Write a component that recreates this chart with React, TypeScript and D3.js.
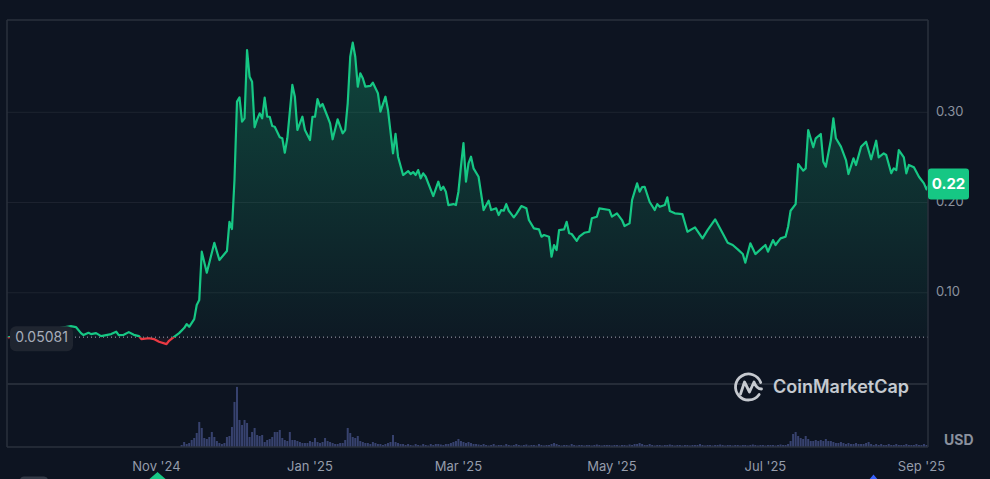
import React, { useEffect } from "react";
import * as d3 from "d3";

const W = 990;
const H = 479;

const priceDates = [
  "2024-09-03","2024-09-28","2024-09-30","2024-10-02","2024-10-03","2024-10-05","2024-10-06","2024-10-08","2024-10-10","2024-10-12",
  "2024-10-14","2024-10-16","2024-10-17","2024-10-19","2024-10-21","2024-10-23","2024-10-25","2024-10-26","2024-10-29","2024-10-31",
  "2024-11-02","2024-11-05","2024-11-06","2024-11-08","2024-11-10","2024-11-12","2024-11-13","2024-11-14","2024-11-16","2024-11-17",
  "2024-11-18","2024-11-19","2024-11-21","2024-11-24","2024-11-26","2024-11-29","2024-11-30","2024-12-01","2024-12-02","2024-12-03",
  "2024-12-04","2024-12-05","2024-12-06","2024-12-07","2024-12-08","2024-12-09","2024-12-10","2024-12-11","2024-12-12","2024-12-13",
  "2024-12-14","2024-12-15","2024-12-16","2024-12-17","2024-12-18","2024-12-20","2024-12-21","2024-12-22","2024-12-23","2024-12-25",
  "2024-12-26","2024-12-27","2024-12-29","2024-12-30","2025-01-01","2025-01-02","2025-01-03","2025-01-04","2025-01-05","2025-01-06",
  "2025-01-08","2025-01-09","2025-01-10","2025-01-12","2025-01-14","2025-01-15","2025-01-16","2025-01-17","2025-01-18","2025-01-19",
  "2025-01-20","2025-01-21","2025-01-22","2025-01-23","2025-01-25","2025-01-26","2025-01-28","2025-01-29","2025-01-31","2025-02-01",
  "2025-02-03","2025-02-04","2025-02-05","2025-02-07","2025-02-09","2025-02-10","2025-02-11","2025-02-12","2025-02-13","2025-02-14",
  "2025-02-15","2025-02-16","2025-02-19","2025-02-21","2025-02-22","2025-02-23","2025-02-24","2025-02-25","2025-02-27","2025-02-28",
  "2025-03-01","2025-03-02","2025-03-03","2025-03-04","2025-03-05","2025-03-06","2025-03-07","2025-03-09","2025-03-11","2025-03-13",
  "2025-03-14","2025-03-16","2025-03-17","2025-03-18","2025-03-19","2025-03-20","2025-03-21","2025-03-23","2025-03-24","2025-03-26",
  "2025-03-28","2025-03-29","2025-03-31","2025-04-02","2025-04-03","2025-04-04","2025-04-06","2025-04-07","2025-04-08","2025-04-09",
  "2025-04-10","2025-04-12","2025-04-13","2025-04-14","2025-04-15","2025-04-17","2025-04-18","2025-04-20","2025-04-22","2025-04-23",
  "2025-04-25","2025-04-26","2025-04-30","2025-05-01","2025-05-03","2025-05-05","2025-05-06","2025-05-08","2025-05-09","2025-05-11",
  "2025-05-12","2025-05-13","2025-05-14","2025-05-16","2025-05-18","2025-05-19","2025-05-20","2025-05-22","2025-05-23","2025-05-24",
  "2025-05-26","2025-05-29","2025-05-31","2025-06-03","2025-06-06","2025-06-08","2025-06-11","2025-06-14","2025-06-16","2025-06-18",
  "2025-06-20","2025-06-22","2025-06-23","2025-06-25","2025-06-27","2025-07-01","2025-07-02","2025-07-04","2025-07-05","2025-07-07",
  "2025-07-09","2025-07-10","2025-07-11","2025-07-13","2025-07-14","2025-07-16","2025-07-17","2025-07-18","2025-07-20","2025-07-21",
  "2025-07-23","2025-07-24","2025-07-25","2025-07-27","2025-07-28","2025-07-29","2025-07-31","2025-08-02","2025-08-03","2025-08-05",
  "2025-08-06","2025-08-08","2025-08-10","2025-08-12","2025-08-14","2025-08-15","2025-08-17","2025-08-18","2025-08-20","2025-08-21",
  "2025-08-22","2025-08-23","2025-08-25","2025-08-26","2025-08-27","2025-08-29","2025-08-31","2025-09-02","2025-09-03","2025-09-04",
];

const priceValues = [
  0.0505,0.0631,0.0620,0.0553,0.0531,0.0557,0.0542,0.0553,0.0520,0.0531,
  0.0542,0.0568,0.0531,0.0534,0.0564,0.0534,0.0520,0.0487,0.0498,0.0487,
  0.0457,0.0431,0.0468,0.0512,0.0553,0.0609,0.0653,0.0623,0.0708,0.0864,
  0.0919,0.1455,0.1222,0.1554,0.1363,0.1462,0.1787,0.1706,0.2250,0.3118,
  0.3166,0.2896,0.2933,0.3690,0.3395,0.3339,0.2834,0.2922,0.2989,0.2933,
  0.3162,0.2951,0.2951,0.2848,0.2840,0.2723,0.2712,0.2552,0.2712,0.3303,
  0.3173,0.2804,0.2951,0.2804,0.2693,0.2951,0.2951,0.3147,0.3062,0.3092,
  0.2951,0.2878,0.2701,0.2922,0.2767,0.2804,0.3100,0.3616,0.3772,0.3616,
  0.3284,0.3432,0.3377,0.3284,0.3292,0.3328,0.3211,0.3007,0.3173,0.3026,
  0.2546,0.2760,0.2508,0.2305,0.2349,0.2316,0.2338,0.2305,0.2360,0.2268,
  0.2324,0.2286,0.2072,0.2231,0.2139,0.2175,0.2120,0.1972,0.1983,0.1972,
  0.2120,0.2400,0.2658,0.2231,0.2435,0.2508,0.2379,0.2286,0.1917,0.2020,
  0.1917,0.1936,0.1861,0.1917,0.1909,0.1983,0.1909,0.1836,0.1872,0.1961,
  0.1936,0.1806,0.1714,0.1703,0.1621,0.1640,0.1621,0.1399,0.1529,0.1473,
  0.1695,0.1703,0.1787,0.1659,0.1651,0.1576,0.1621,0.1665,0.1676,0.1825,
  0.1843,0.1936,0.1917,0.1843,0.1880,0.1806,0.1740,0.1769,0.2028,0.2213,
  0.2120,0.2172,0.2175,0.2006,0.1917,0.1983,0.1953,0.1972,0.2058,0.1906,
  0.1880,0.1872,0.1676,0.1725,0.1603,0.1695,0.1814,0.1659,0.1554,0.1529,
  0.1481,0.1429,0.1333,0.1548,0.1429,0.1529,0.1455,0.1584,0.1529,0.1603,
  0.1621,0.1732,0.1909,0.1983,0.2427,0.2353,0.2379,0.2804,0.2612,0.2712,
  0.2760,0.2452,0.2397,0.2693,0.2933,0.2712,0.2619,0.2471,0.2316,0.2490,
  0.2416,0.2619,0.2674,0.2479,0.2685,0.2501,0.2545,0.2527,0.2324,0.2379,
  0.2360,0.2582,0.2501,0.2324,0.2416,0.2390,0.2286,0.2213,0.2146,0.2200,
];

const baselinePrice = 0.05081;
const baselineLabel = "0.05081";
const lastPriceLabel = "0.22";
const priceTicks = [0.1, 0.2, 0.3];
const priceTickLabels = ["0.10", "0.20", "0.30"];
const timeTicks = ["2024-11-01", "2025-01-01", "2025-03-01", "2025-05-01", "2025-07-01", "2025-09-01"];
const timeTickLabels = ["Nov '24", "Jan '25", "Mar '25", "May '25", "Jul '25", "Sep '25"];
const currencyLabel = "USD";
const brandLabel = "CoinMarketCap";

// daily volume (relative units), starting 2024-11-11
const volumeStart = "2024-11-11";
const volumeValues = [
  2,5,3,4,7,9,14,25,19,9,
  8,10,15,10,6,4,3,4,10,11,
  20,45,60,27,22,27,24,10,15,19,
  12,11,12,5,7,8,10,15,15,17,
  9,7,6,15,7,7,6,5,4,4,
  4,6,5,9,5,4,5,9,6,5,
  4,3,3,4,4,7,19,14,10,9,
  11,6,5,4,4,3,5,4,3,3,
  2,3,4,5,12,5,4,3,3,2,
  3,2,1.5,3,2,1.5,3,2,1.5,3,
  2,3,3,2.5,2,3,3,4,5,6,
  8,6,5,4,5,4,3,3,2.5,2,
  3,2,1.5,2,3,1.5,2,2,1.5,3,
  2,1.5,2,3,2,1.5,2,2.5,1.5,2,
  2,1.5,3,2,1.5,2,2,3,4,3,
  2,1.5,2,2,1.5,3,2,1.5,2,2,
  1.5,2,2,1.5,2,2.5,2,1.5,2,2,
  2,1.5,2,2,1.5,2,2,1.5,2.5,2,
  3,3,4,3,2,2,3,2,1.5,2,
  2,1.5,2,2,2.5,2,1.5,2,2,1.5,
  2,2,1.5,2,2,2,3,2,1.5,2,
  2,1.5,2,2,2.5,2,1.5,2,2,1.5,
  2,2,1.5,2,2,1.5,2,2.5,2,1.5,
  2,2,1.5,2,2,2,1.5,2,2.5,2,
  2,3,6,13,15,11,9,8,11,8,
  6,6,7,6,7,6,8,6,6,5,
  4,4,5,4,3,4,3,3,4,3,
  3,3,4,5,3,2,3,2,3,2,
  2,3,2,2,3,2,2,2,3,2,
  2,2,3,2,2,3,2,
];

const BG = "#0d1421";
const GREEN = "#16c784";
const RED = "#ea3943";
const FONT = "Inter, 'Noto Sans', sans-serif";

const parse = d3.utcParse("%Y-%m-%d");

export default function App() {
  useEffect(() => {
    document.body.style.margin = "0";
    document.body.style.background = BG;
  }, []);

  const left = 7;
  const right = 928;
  const top = 20;
  const priceBottom = 383;
  const volBottom = 447;

  const data = priceDates.map((d, i) => ({ date: parse(d) as Date, v: priceValues[i] }));
  const x = d3.scaleUtc().domain([parse("2024-09-03") as Date, parse("2025-09-04") as Date]).range([8, 929]);
  const y = d3.scaleLinear().domain([0, 0.4023]).range([priceBottom, top]);
  const baseY = y(baselinePrice);

  const vStart = parse(volumeStart) as Date;
  const vols = volumeValues.map((v, i) => ({ date: d3.utcDay.offset(vStart, i), v }));
  const vy = d3.scaleLinear().domain([0, (d3.max(volumeValues) as number) * 1.065]).range([volBottom, priceBottom]);

  const line = d3.line<{ date: Date; v: number }>().x((d) => x(d.date)).y((d) => y(d.v));
  const area = d3
    .area<{ date: Date; v: number }>()
    .x((d) => x(d.date))
    .y0(baseY)
    .y1((d) => y(d.v));

  const lastY = y(priceValues[priceValues.length - 1]);

  // logo geometry
  const lcx = 748.5;
  const lcy = 387;
  const lr = 13;
  const a0 = (35 * Math.PI) / 180;
  const a1 = (-20 * Math.PI) / 180;
  const arcPath = `M ${lcx + lr * Math.cos(a0)} ${lcy + lr * Math.sin(a0)} A ${lr} ${lr} 0 1 1 ${lcx + lr * Math.cos(a1)} ${lcy + lr * Math.sin(a1)}`;

  return (
    <svg width={W} height={H} style={{ position: "absolute", left: 0, top: 0, display: "block" }} fontFamily={FONT}>
      <defs>
        <linearGradient id="gUp" gradientUnits="userSpaceOnUse" x1="0" y1={top} x2="0" y2={baseY}>
          <stop offset="0" stopColor={GREEN} stopOpacity={0.3} />
          <stop offset="1" stopColor={GREEN} stopOpacity={0.03} />
        </linearGradient>
        <linearGradient id="gDown" gradientUnits="userSpaceOnUse" x1="0" y1={baseY} x2="0" y2={priceBottom}>
          <stop offset="0" stopColor={RED} stopOpacity={0.05} />
          <stop offset="1" stopColor={RED} stopOpacity={0.3} />
        </linearGradient>
        <clipPath id="cUp">
          <rect x={left} y={top} width={right - left} height={baseY - top} />
        </clipPath>
        <clipPath id="cDown">
          <rect x={left} y={baseY} width={right - left} height={priceBottom - baseY} />
        </clipPath>
      </defs>
      <rect width={W} height={H} fill={BG} />

      {/* grid */}
      {priceTicks.map((t) => (
        <line key={t} x1={left} x2={right} y1={y(t)} y2={y(t)} stroke="#1d2430" strokeWidth={1} />
      ))}

      {/* volume */}
      {vols.map((d, i) => (
        <rect
          key={i}
          x={x(d.date) - 1}
          y={vy(d.v)}
          width={2}
          height={volBottom - vy(d.v)}
          fill="#3c4777"
          opacity={0.9}
        />
      ))}

      {/* fills */}
      <path d={area(data) || ""} fill="url(#gUp)" clipPath="url(#cUp)" />
      <path d={area(data) || ""} fill="url(#gDown)" clipPath="url(#cDown)" />

      {/* baseline */}
      <line x1={left} x2={right} y1={baseY} y2={baseY} stroke="#a3a9b6" strokeWidth={1} strokeDasharray="1 3" />

      {/* line */}
      <path d={line(data) || ""} fill="none" stroke={GREEN} strokeWidth={2.2} strokeLinejoin="round" clipPath="url(#cUp)" />
      <path d={line(data) || ""} fill="none" stroke={RED} strokeWidth={2.2} strokeLinejoin="round" clipPath="url(#cDown)" />

      {/* frame */}
      <line x1={left} x2={right} y1={top} y2={top} stroke="#2a313c" strokeWidth={1.5} />
      <line x1={left} x2={left} y1={top} y2={volBottom} stroke="#2a313c" strokeWidth={1.5} />
      <line x1={right} x2={right} y1={top} y2={volBottom} stroke="#2a313c" strokeWidth={1.5} />
      <line x1={left} x2={right} y1={volBottom} y2={volBottom} stroke="#2a313c" strokeWidth={1.5} />
      <line x1={left} x2={right} y1={priceBottom + 1} y2={priceBottom + 1} stroke="#252c38" strokeWidth={2} />

      {/* baseline label */}
      <rect x={10} y={baseY - 11} width={63} height={25} rx={6} fill="#1f2530" />
      <text x={41.5} y={baseY + 1.5} textAnchor="middle" dominantBaseline="middle" fontSize={14} fill="#a7adba">
        {baselineLabel}
      </text>

      {/* price axis labels */}
      {priceTicks.map((t, i) => (
        <text key={t} x={936} y={y(t)} dominantBaseline="middle" fontSize={13} fill="#8a919e">
          {priceTickLabels[i]}
        </text>
      ))}
      <text x={944} y={441} dominantBaseline="middle" fontSize={14} fontWeight={700} fill="#8a919e">
        {currencyLabel}
      </text>

      {/* last price tag */}
      <rect x={928} y={lastY - 16} width={41} height={31} rx={3} fill={GREEN} />
      <text x={948.5} y={lastY} textAnchor="middle" dominantBaseline="middle" fontSize={15} fontWeight={700} fill="#ffffff">
        {lastPriceLabel}
      </text>

      {/* time axis */}
      {timeTicks.map((t, i) => (
        <text key={t} x={x(parse(t) as Date)} y={467} textAnchor="middle" dominantBaseline="middle" fontSize={13} fill="#959cab">
          {timeTickLabels[i]}
        </text>
      ))}

      {/* watermark */}
      <g opacity={0.88}>
        <path d={arcPath} fill="none" stroke="#dfe2e7" strokeWidth={2.8} strokeLinecap="round" />
        <path
          d={`M ${lcx - 8} ${lcy + 7} L ${lcx - 4} ${lcy - 5} L ${lcx + 1} ${lcy + 5} L ${lcx + 5.5} ${lcy - 5} Q ${lcx + 8} ${lcy + 2} ${lcx + 13} ${lcy + 2}`}
          fill="none"
          stroke="#dfe2e7"
          strokeWidth={2.8}
          strokeLinecap="round"
          strokeLinejoin="round"
        />
        <text x={773} y={388} dominantBaseline="middle" fontSize={18} fontWeight={600} fill="#dfe2e7">
          {brandLabel}
        </text>
      </g>

      {/* bottom markers */}
      <rect x={20} y={476.5} width={28} height={10} rx={4} fill="#323946" />
      <path d="M 157.5 472 L 169 482 L 146 482 Z" fill={GREEN} />
      <path d="M 873.5 474.5 L 879 481 L 868 481 Z" fill="#3861fb" />
    </svg>
  );
}
